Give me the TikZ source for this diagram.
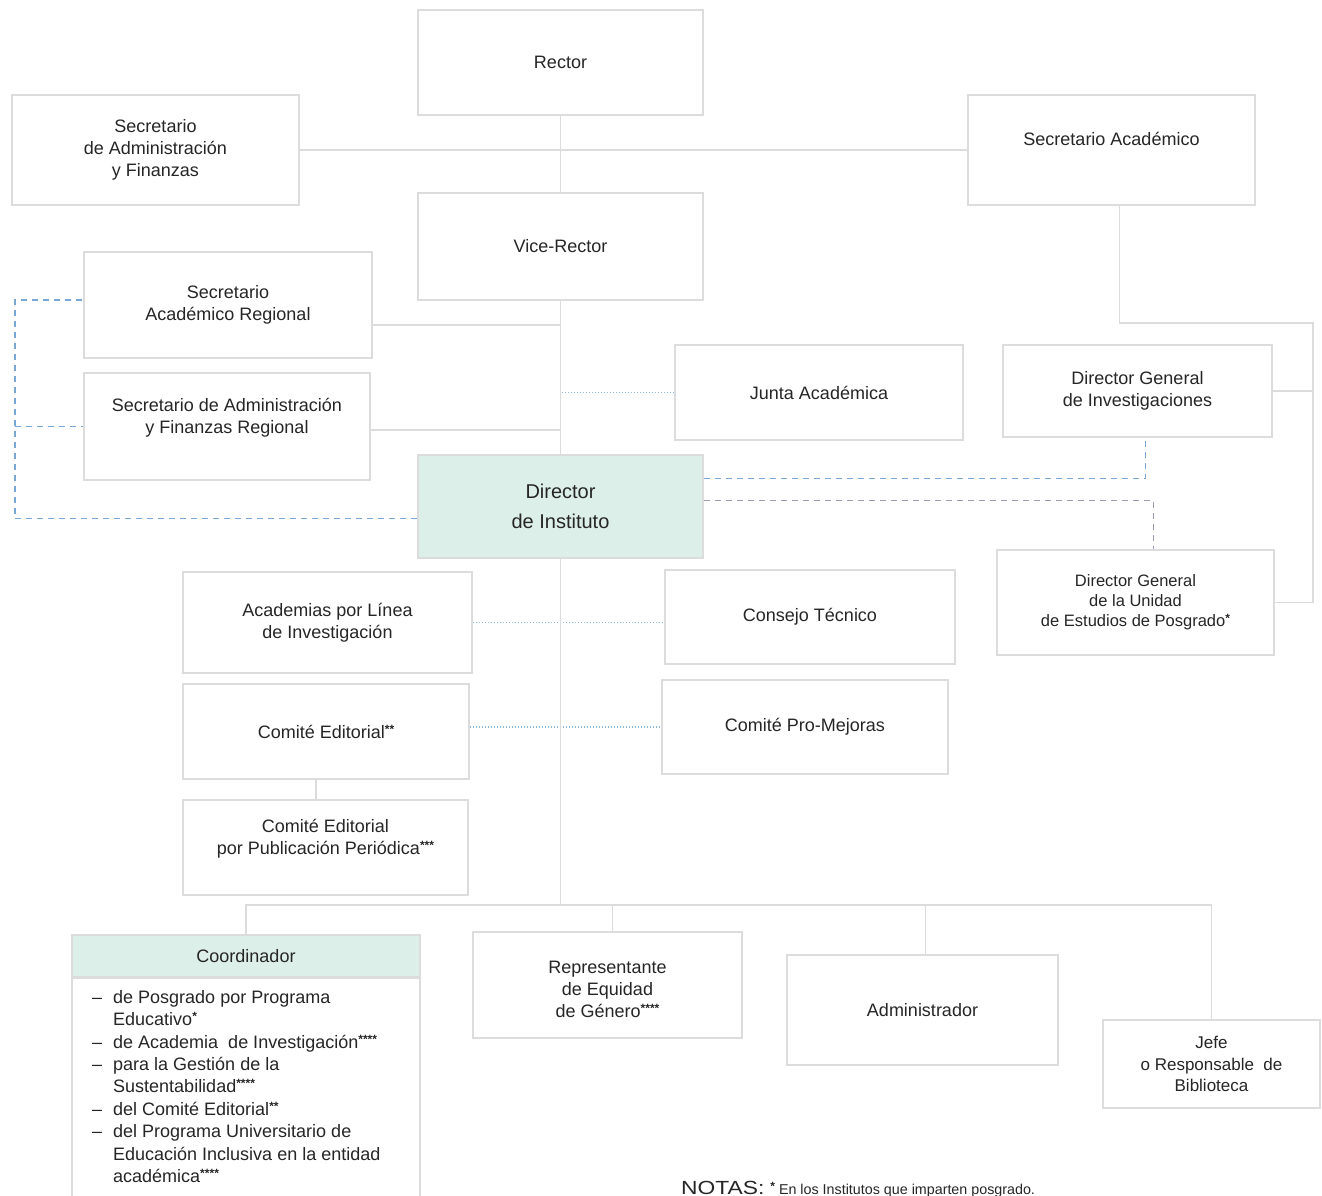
\documentclass[tikz,border=0pt]{standalone}
\usepackage{fontspec}
\setmainfont{Liberation Sans}
\newfontfamily\notafont[FakeStretch=1.2]{Liberation Sans}
\usetikzlibrary{calc,backgrounds}
\definecolor{txt}{HTML}{262626}
\definecolor{mint}{HTML}{DCEFE8}
\definecolor{edge}{HTML}{DCDCDC}
\definecolor{lnk}{HTML}{DCDCDC}
\definecolor{dotc}{HTML}{8DB8DA}
\definecolor{dashb}{HTML}{7AA8D6}
\definecolor{dashg}{HTML}{9C9CB8}
\newcommand{\sups}[1]{\raisebox{0.28em}{\fontsize{12}{12}\selectfont\bfseries #1}}
\newcommand{\itm}{\makebox[21pt][l]{–}}
\newcommand{\cnt}{\hspace*{21pt}}
\begin{document}
\begin{tikzpicture}[x=1pt,y=-1pt,
  box/.style={draw=edge, line width=1.6pt, fill=white, text=txt, align=center,
    inner sep=0pt, font=\fontsize{18}{22}\selectfont},
  link/.style={draw=lnk, line width=1.3pt},
  dotlink/.style={draw=dotc, line width=1.8pt, dash pattern=on 1.2pt off 1.8pt},
  dashlink/.style={draw=dashb, line width=1.3pt, dash pattern=on 6pt off 5pt},
  dashglink/.style={draw=dashg, line width=1.3pt, dash pattern=on 6pt off 5pt}]
\begin{scope}[on background layer]
\fill[white] (0,0) rectangle (1322,1196);
\end{scope}
\useasboundingbox (0,0) rectangle (1322,1196);

% boxes
\node[box, minimum width=285pt, minimum height=105pt] (rector) at (560.5,62.5) {Rector};
\node[box, minimum width=287pt, minimum height=110pt] (saf) at (155.5,150) {Secretario\\de Administración\\y Finanzas};
\node[box, minimum width=287pt, minimum height=110pt] (sa) at (1111.5,150) {Secretario Académico\\\mbox{}};
\node[box, minimum width=285pt, minimum height=107pt] (vice) at (560.5,246.5) {Vice-Rector};
\node[box, minimum width=288pt, minimum height=106pt] (sar) at (228,305) {Secretario\\Académico Regional};
\node[box, minimum width=286pt, minimum height=107pt] (safr) at (227,426.5) {Secretario de Administración\\y Finanzas Regional\\\mbox{}};
\node[box, minimum width=288pt, minimum height=95pt] (junta) at (819,392.5) {Junta Académica};
\node[box, minimum width=269pt, minimum height=92pt] (dgi) at (1137.5,391) {Director General\\de Investigaciones};
\node[box, fill=mint, minimum width=285pt, minimum height=103pt, font=\fontsize{20}{30}\selectfont] (dir) at (560.5,506.5) {Director\\de Instituto};
\node[box, minimum width=277pt, minimum height=105pt, font=\fontsize{16.5}{20}\selectfont] (dgu) at (1135.5,602.5) {Director General\\de la Unidad\\de Estudios de Posgrado\sups{*}};
\node[box, minimum width=289pt, minimum height=101pt] (acad) at (327.5,622.5) {Academias por Línea\\de Investigación};
\node[box, minimum width=290pt, minimum height=94pt] (consejo) at (810,617) {Consejo Técnico};
\node[box, minimum width=286pt, minimum height=95pt] (ced) at (326,731.5) {Comité Editorial\sups{**}};
\node[box, minimum width=286pt, minimum height=94pt] (cpm) at (805,727) {Comité Pro-Mejoras};
\node[box, minimum width=285pt, minimum height=95pt] (cedp) at (325.5,847.5) {Comité Editorial\\por Publicación Periódica\sups{***}\\\mbox{}};
\node[box, fill=mint, minimum width=348pt, minimum height=42pt] (coordhead) at (246,956) {Coordinador};
\node[box, minimum width=348pt, minimum height=240pt, anchor=north] (coordbody) at (246,977) {};
\node[anchor=north west, inner sep=0pt, align=left, text=txt, font=\fontsize{18}{22.4}\selectfont] (coordlist) at (92,990)
 {\itm de Posgrado por Programa\\
  \cnt Educativo\sups{*}\\
  \itm de Academia\ \ de Investigación\sups{****}\\
  \itm para la Gestión de la\\
  \cnt Sustentabilidad\sups{****}\\
  \itm del Comité Editorial\sups{**}\\
  \itm del Programa Universitario de\\
  \cnt Educación Inclusiva en la entidad\\
  \cnt académica\sups{****}};
\node[box, minimum width=269pt, minimum height=106pt] (rep) at (607.5,985)
 {\raisebox{-6pt}[\height][\depth]{\begin{tabular}{@{}c@{}}Representante\\de Equidad\\de Género\sups{****}\end{tabular}}};
\node[box, minimum width=271pt, minimum height=110pt] (adm) at (922.5,1010) {Administrador};
\node[box, minimum width=217pt, minimum height=88pt, font=\fontsize{17}{21.5}\selectfont] (jefe) at (1211.5,1064) {Jefe\\o Responsable\ \ de\\Biblioteca};
\node[anchor=base west, inner sep=0pt, text=txt, font=\fontsize{14.3}{16}\selectfont] (notas) at (681,1194)
 {{\notafont\fontsize{19}{20}\selectfont NOTAS:}\hspace{6pt}\sups{*} En los Institutos que imparten posgrado.};

% helper coordinates
\coordinate (sarE) at ([yshift=-20pt]sar.east);
\coordinate (safrE) at ([yshift=-3.5pt]safr.east);
\coordinate (br) at (1313,323);
\coordinate (saS) at ([xshift=8pt]sa.south);
\coordinate (lk) at (15,300);
\coordinate (dirW) at ([yshift=-12pt]dir.west);
\coordinate (dirE1) at ([yshift=28pt]dir.east);
\coordinate (dirE2) at ([yshift=6pt]dir.east);
\coordinate (dgiS) at ([xshift=8pt]dgi.south);
\coordinate (dguN) at ([xshift=18pt]dgu.north);
\coordinate (cedS) at ([xshift=-10pt]ced.south);
\coordinate (bus) at (0,905);
\coordinate (repN) at ([xshift=5pt]rep.north);
\coordinate (admN) at ([xshift=3pt]adm.north);

\begin{scope}[on background layer]
\path[link] (rector.south) -- (vice.north);
\path[link] (saf.east) -- (sa.west);
\path[link] (vice.south) -- (dir.north);
\path[link] (sarE) -- (sarE -| vice.south);
\path[link] (safrE) -- (safrE -| vice.south);
\path[dotlink] (junta.west) -- (junta.west -| vice.south);
\path[link] (saS) |- (br) |- (dgu.east);
\path[link] (dgi.east) -- (dgi.east -| br);
\path[dashlink] (dirW) -| (lk) -- (lk -| sar.west);
\path[dashlink] (lk |- safr.west) -- (safr.west);
\path[dashlink] (dirE1) -| (dgiS);
\path[dashglink] (dirE2) -| (dguN);
\path[dotlink] (acad.east) -- (acad.east -| consejo.west);
\path[dotlink] (cpm.west -| ced.east) -- (cpm.west);
\path[link] (cedS) -- (cedS |- cedp.north);
\path[link] (dir.south) -- (dir.south |- bus);
\path[link] (coordhead.north) |- (jefe.north |- bus) -- (jefe.north);
\path[link] (repN) -- (repN |- bus);
\path[link] (admN) -- (admN |- bus);
\end{scope}
\end{tikzpicture}
\end{document}
